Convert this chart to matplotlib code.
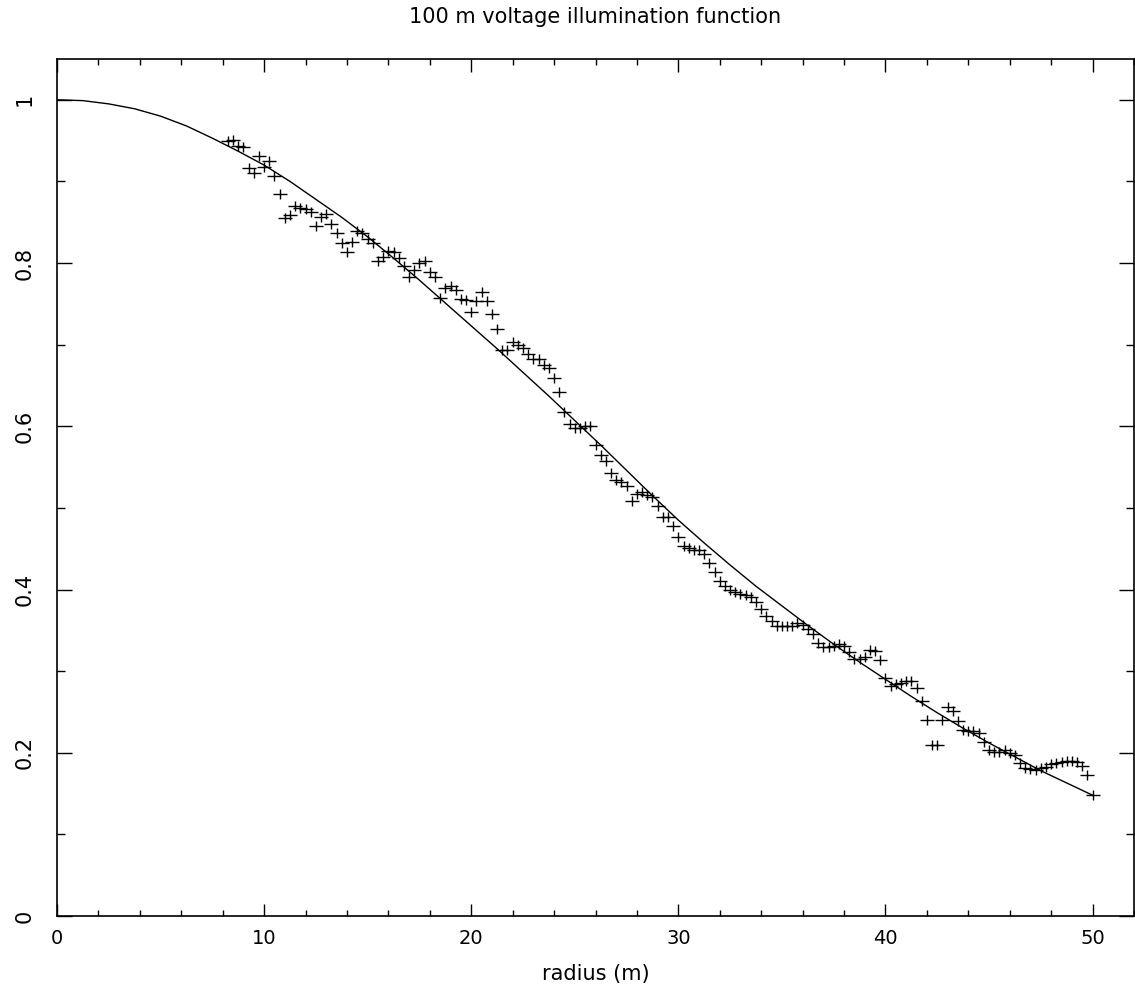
import numpy as np
import matplotlib
matplotlib.use('Agg')
import matplotlib.pyplot as plt
from matplotlib.path import Path
from matplotlib.ticker import MultipleLocator, FuncFormatter

# measured illumination, one point every 0.25 m starting at 8.25 m
r_start = 8.25
r_step = 0.25
v_meas = [
    0.950, 0.951, 0.943, 0.942, 0.916, 0.910, 0.931, 0.918,
    0.925, 0.907, 0.884, 0.855, 0.859, 0.870, 0.868, 0.866,
    0.863, 0.845, 0.856, 0.860, 0.848, 0.837, 0.824, 0.813,
    0.826, 0.839, 0.837, 0.830, 0.824, 0.802, 0.808, 0.815,
    0.814, 0.806, 0.796, 0.783, 0.792, 0.800, 0.802, 0.789,
    0.783, 0.757, 0.769, 0.772, 0.767, 0.756, 0.755, 0.740,
    0.754, 0.764, 0.754, 0.738, 0.719, 0.693, 0.694, 0.703,
    0.700, 0.696, 0.689, 0.682, 0.683, 0.675, 0.671, 0.659,
    0.642, 0.617, 0.603, 0.598, 0.598, 0.600, 0.600, 0.577,
    0.565, 0.558, 0.543, 0.534, 0.532, 0.527, 0.508, 0.517,
    0.519, 0.516, 0.513, 0.502, 0.489, 0.489, 0.478, 0.464,
    0.453, 0.451, 0.449, 0.449, 0.444, 0.433, 0.421, 0.411,
    0.404, 0.400, 0.397, 0.395, 0.393, 0.391, 0.385, 0.376,
    0.368, 0.362, 0.355, 0.355, 0.355, 0.355, 0.359, 0.356,
    0.352, 0.346, 0.335, 0.330, 0.330, 0.331, 0.333, 0.331,
    0.323, 0.315, 0.315, 0.317, 0.326, 0.325, 0.314, 0.292,
    0.282, 0.284, 0.285, 0.288, 0.288, 0.279, 0.264, 0.240,
    0.210, 0.210, 0.240, 0.256, 0.251, 0.239, 0.228, 0.227,
    0.227, 0.224, 0.213, 0.203, 0.201, 0.201, 0.203, 0.200,
    0.197, 0.188, 0.181, 0.180, 0.179, 0.181, 0.183, 0.186,
    0.188, 0.189, 0.190, 0.190, 0.189, 0.184, 0.173, 0.148,
]
r_meas = r_start + r_step * np.arange(len(v_meas))

r_model = [0, 1.25, 2.5, 3.75, 5, 6.25, 7.5, 8.75, 10, 11.25,
           12.5, 13.75, 15, 16.25, 17.5, 18.75, 20, 21.25, 22.5, 23.75,
           25, 26.25, 27.5, 28.75, 30, 31.25, 32.5, 33.75, 35, 36.25,
           37.5, 38.75, 40, 41.25, 42.5, 43.75, 45, 46.25, 47.5, 48.75, 50]
v_model = [1.000, 0.999, 0.995, 0.989, 0.980, 0.968, 0.953, 0.937, 0.920, 0.900,
           0.878, 0.856, 0.832, 0.806, 0.779, 0.751, 0.723, 0.695, 0.666, 0.637,
           0.607, 0.577, 0.546, 0.515, 0.485, 0.457, 0.430, 0.404, 0.380, 0.356,
           0.333, 0.311, 0.290, 0.269, 0.249, 0.230, 0.212, 0.195, 0.178, 0.163, 0.148]

x_ticks = [0, 10, 20, 30, 40, 50]
y_ticks = [0, 0.2, 0.4, 0.6, 0.8, 1.0]

plt.rcParams['font.family'] = ['DejaVu Sans']

W, H = 1135, 988
fig = plt.figure(figsize=(W / 100, H / 100), dpi=100)
ax = fig.add_axes([57 / W, (H - 916) / H, (1134 - 57) / W, (916 - 59) / H])

# pgplot style "+" : a bit wider than tall
cross = Path([(-1, 0), (1, 0), (0, -0.7), (0, 0.7)],
             [Path.MOVETO, Path.LINETO, Path.MOVETO, Path.LINETO])

ax.plot(r_model, v_model, color='black', lw=1.0)
ax.plot(r_meas, v_meas, ls='none', marker=cross, ms=9.5, mew=1.0, color='black')

ax.set_xlim(0, 52)
ax.set_ylim(0, 1.05)

ax.xaxis.set_major_locator(MultipleLocator(10))
ax.xaxis.set_minor_locator(MultipleLocator(2))
ax.yaxis.set_major_locator(MultipleLocator(0.2))
ax.yaxis.set_minor_locator(MultipleLocator(0.1))
ax.set_xticks(x_ticks)
ax.set_yticks(y_ticks)
ax.yaxis.set_major_formatter(FuncFormatter(lambda v, p: '%g' % v))

ax.tick_params(axis='both', which='both', direction='in', top=True, right=True, width=1.0)
ax.tick_params(axis='x', which='major', length=9, pad=9, labelsize=14)
ax.tick_params(axis='x', which='minor', length=4.5)
ax.tick_params(axis='y', which='major', length=11, pad=16, labelsize=15)
ax.tick_params(axis='y', which='minor', length=5.5)
for lab in ax.get_yticklabels():
    lab.set_rotation(90)
    lab.set_va('center')

for sp in ax.spines.values():
    sp.set_linewidth(1.2)

ax.set_xlabel('radius (m)', fontsize=15, labelpad=12)
ax.set_title('100 m voltage illumination function', fontsize=15, pad=26)

fig.savefig('out.png', dpi=100)
